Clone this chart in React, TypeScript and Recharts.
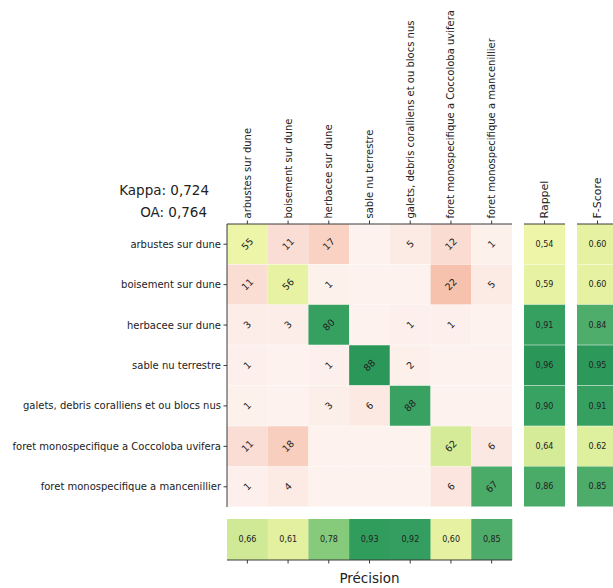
import React from "react";
import { BarChart, Bar, XAxis, YAxis, Cell, LabelList, Label } from "recharts";

const CLASSES = [
  "arbustes sur dune",
  "boisement sur dune",
  "herbacee sur dune",
  "sable nu terrestre",
  "galets, debris coralliens et ou blocs nus",
  "foret monospecifique a Coccoloba uvifera",
  "foret monospecifique a mancenillier",
];

const ROW_ARBUSTES = [55, 11, 17, 0, 5, 12, 1];
const ROW_BOISEMENT = [11, 56, 1, 0, 0, 22, 5];
const ROW_HERBACEE = [3, 3, 80, 0, 1, 1, 0];
const ROW_SABLE = [1, 0, 1, 88, 2, 0, 0];
const ROW_GALETS = [1, 0, 3, 6, 88, 0, 0];
const ROW_COCCOLOBA = [11, 18, 0, 0, 0, 62, 6];
const ROW_MANCENILLIER = [1, 4, 0, 0, 0, 6, 67];
const MATRIX = [ROW_ARBUSTES, ROW_BOISEMENT, ROW_HERBACEE, ROW_SABLE, ROW_GALETS, ROW_COCCOLOBA, ROW_MANCENILLIER];

const RAPPEL = [0.54, 0.59, 0.91, 0.96, 0.9, 0.64, 0.86];
const FSCORE = [0.6, 0.6, 0.84, 0.95, 0.91, 0.62, 0.85];
const PRECISION = [0.66, 0.61, 0.78, 0.93, 0.92, 0.6, 0.85];
const KAPPA = "0,724";
const OA = "0,764";

const FONT = "DejaVu Sans, Verdana, sans-serif";
const SPINE = "#3a3a3a";
const TXT = "#222";

const STOPS: [number, string][] = [
  [0.0, "#fdf2ee"],
  [0.05, "#fcebe5"],
  [0.12, "#fadcd2"],
  [0.19, "#f8cdbd"],
  [0.23, "#f6c2ad"],
  [0.4, "#f3e6b5"],
  [0.54, "#eef5a9"],
  [0.6, "#e6f2a1"],
  [0.64, "#d6eb98"],
  [0.66, "#d0e996"],
  [0.78, "#86ca7c"],
  [0.84, "#4fad6b"],
  [0.86, "#4aab69"],
  [0.9, "#38a262"],
  [0.96, "#2a9759"],
  [1.0, "#268f55"],
];
function hex(c: string) {
  return [1, 3, 5].map((k) => parseInt(c.slice(k, k + 2), 16));
}
function cmap(t: number) {
  t = Math.max(0, Math.min(1, t));
  for (let i = 1; i < STOPS.length; i++) {
    if (t <= STOPS[i][0]) {
      const [t0, c0] = STOPS[i - 1];
      const [t1, c1] = STOPS[i];
      const f = (t - t0) / (t1 - t0);
      const a = hex(c0), b = hex(c1);
      const m = a.map((v, k) => Math.round(v + (b[k] - v) * f));
      return `rgb(${m[0]},${m[1]},${m[2]})`;
    }
  }
  return STOPS[STOPS.length - 1][1];
}

const ROW_SUM = MATRIX.map((r) => r.reduce((a, b) => a + b, 0));
const COL_KEYS = CLASSES.map((_, j) => `c${j}`);

const matrixData = CLASSES.map((name, i) => {
  const o: any = { name };
  COL_KEYS.forEach((k, j) => {
    o[k] = 1;
    o[`v${j}`] = MATRIX[i][j];
  });
  return o;
});
const rappelData = CLASSES.map((name, i) => ({ name, one: 1, v: RAPPEL[i] }));
const fscoreData = CLASSES.map((name, i) => ({ name, one: 1, v: FSCORE[i] }));
const precisionData = CLASSES.map((name, i) => ({ name, one: 1, v: PRECISION[i] }));

const LABEL_SIZE = 10;

const ColTick = (props: any) => {
  const { x, y, payload } = props;
  const label = CLASSES[Math.round(payload.value - 0.5)] ?? "";
  return (
    <g transform={`translate(${x},${y})`}>
      <text transform="rotate(-90)" textAnchor="start" dy="0.35em" fontSize={LABEL_SIZE} fill={TXT} fontFamily={FONT}>
        {label}
      </text>
    </g>
  );
};

const RowTick = (props: any) => {
  const { x, y, payload } = props;
  return (
    <text x={x} y={y} textAnchor="end" dy="0.35em" fontSize={LABEL_SIZE} fill={TXT} fontFamily={FONT}>
      {payload.value}
    </text>
  );
};

const HeaderTick = (text: string, size: number) => (props: any) => {
  const { x, y } = props;
  return (
    <g transform={`translate(${x},${y})`}>
      <text transform="rotate(-90)" textAnchor="start" dy="0.36em" fontSize={size} fill={TXT} fontFamily={FONT}>
        {text}
      </text>
    </g>
  );
};

const CountLabel = (props: any) => {
  const { x, y, width, height, value } = props;
  if (!value) return null;
  const cx = x + width / 2;
  const cy = y + height / 2;
  return (
    <text
      transform={`translate(${cx},${cy}) rotate(-45)`}
      textAnchor="middle"
      dy="0.35em"
      fontSize={9.5}
      fill={TXT}
      fontFamily={FONT}
    >
      {value}
    </text>
  );
};

const metricLabel = (dot: boolean) => (props: any) => {
  const { x, y, width, height, value } = props;
  const s = value.toFixed(2);
  return (
    <text x={x + width / 2} y={y + height / 2} textAnchor="middle" dy="0.35em" fontSize={8} fill={TXT} fontFamily={FONT}>
      {dot ? s : s.replace(".", ",")}
    </text>
  );
};

const ROW_TICKS = CLASSES.map((_, j) => j + 0.5);

function MetricColumn({ data, title, left, dot }: { data: any[]; title: string; left: number; dot: boolean }) {
  return (
    <div style={{ position: "absolute", left: 0, top: 0 }}>
      <BarChart
        width={left + 41 + 8}
        height={515}
        data={data}
        layout="vertical"
        margin={{ top: 0, right: 8, bottom: 8, left: left }}
        barCategoryGap={0}
      >
        <XAxis
          xAxisId="top"
          type="number"
          orientation="top"
          domain={[0, 1]}
          ticks={[0.5]}
          height={224}
          tickSize={3.5}
          tick={HeaderTick(title, 11)}
          stroke={SPINE}
          interval={0}
        />
        <XAxis xAxisId="bot" type="number" orientation="bottom" domain={[0, 1]} height={0} tick={false} tickLine={false} stroke={SPINE} />
        <YAxis yAxisId="left" type="category" dataKey="name" width={0} tick={false} tickLine={false} stroke={SPINE} />
        <YAxis yAxisId="right" type="category" dataKey="name" orientation="right" width={0} tick={false} tickLine={false} stroke={SPINE} />
        <Bar dataKey="one" xAxisId="top" yAxisId="left" isAnimationActive={false}>
          {data.map((d, i) => (
            <Cell key={i} fill={cmap(d.v)} />
          ))}
          <LabelList dataKey="v" content={metricLabel(dot)} />
        </Bar>
      </BarChart>
    </div>
  );
}

export default function App() {
  return (
    <div
      style={{
        position: "absolute",
        left: 0,
        top: 0,
        width: 613,
        height: 588,
        overflow: "hidden",
        background: "#fff",
        fontFamily: FONT,
      }}
    >
      {/* Confusion matrix */}
      <div style={{ position: "absolute", left: 0, top: 0 }}>
        <BarChart
          width={520}
          height={515}
          data={matrixData}
          layout="vertical"
          margin={{ top: 0, right: 8, bottom: 8, left: 0 }}
          barCategoryGap={0}
          barGap={0}
        >
          <XAxis
            xAxisId="top"
            type="number"
            orientation="top"
            domain={[0, 7]}
            ticks={ROW_TICKS}
            height={224}
            tickSize={3.5}
            tick={<ColTick />}
            stroke={SPINE}
            interval={0}
          />
          <XAxis xAxisId="bot" type="number" orientation="bottom" domain={[0, 7]} height={0} tick={false} tickLine={false} stroke={SPINE} />
          <YAxis
            yAxisId="left"
            type="category"
            dataKey="name"
            width={227}
            tickSize={3.5}
            tickMargin={2.5}
            interval={0}
            stroke={SPINE}
            tick={<RowTick />}
          />
          <YAxis yAxisId="right" type="category" dataKey="name" orientation="right" width={0} tick={false} tickLine={false} stroke={SPINE} />
          {COL_KEYS.map((k, j) => (
            <Bar key={k} dataKey={k} stackId="m" xAxisId="top" yAxisId="left" isAnimationActive={false}>
              {MATRIX.map((row, i) => (
                <Cell key={i} fill={cmap(row[j] / ROW_SUM[i])} />
              ))}
              <LabelList dataKey={`v${j}`} content={CountLabel} />
            </Bar>
          ))}
        </BarChart>
      </div>

      <MetricColumn data={rappelData} title="Rappel" left={524} dot={false} />
      <MetricColumn data={fscoreData} title="F-Score" left={577} dot={true} />

      {/* Precision row */}
      <div style={{ position: "absolute", left: 0, top: 0 }}>
        <BarChart
          width={520}
          height={588}
          data={precisionData}
          margin={{ top: 519, right: 8, bottom: 0, left: 227 }}
          barCategoryGap={0}
        >
          <XAxis
            xAxisId="bot"
            dataKey="name"
            type="category"
            orientation="bottom"
            height={28}
            tickSize={3.5}
            tickFormatter={() => ""}
            interval={0}
            stroke={SPINE}
          >
            <Label value="Précision" position="insideBottom" offset={5} fontSize={13.5} fill={TXT} fontFamily={FONT} />
          </XAxis>
          <XAxis xAxisId="top" dataKey="name" type="category" orientation="top" height={0} tick={false} tickLine={false} stroke={SPINE} />
          <YAxis yAxisId="left" type="number" domain={[0, 1]} width={0} tick={false} tickLine={false} stroke={SPINE} />
          <YAxis yAxisId="right" type="number" domain={[0, 1]} orientation="right" width={0} tick={false} tickLine={false} stroke={SPINE} />
          <Bar dataKey="one" xAxisId="bot" yAxisId="left" isAnimationActive={false}>
            {precisionData.map((d, i) => (
              <Cell key={i} fill={cmap(d.v)} />
            ))}
            <LabelList dataKey="v" content={metricLabel(false)} />
          </Bar>
        </BarChart>
      </div>

      {/* Kappa / OA */}
      <svg width={613} height={588} style={{ position: "absolute", left: 0, top: 0, pointerEvents: "none" }}>
        <text x={209} y={195} textAnchor="end" fontSize={13.5} fill={TXT} fontFamily={FONT}>
          {`Kappa: ${KAPPA}`}
        </text>
        <text x={207} y={217} textAnchor="end" fontSize={13.5} fill={TXT} fontFamily={FONT}>
          {`OA: ${OA}`}
        </text>
      </svg>
    </div>
  );
}
